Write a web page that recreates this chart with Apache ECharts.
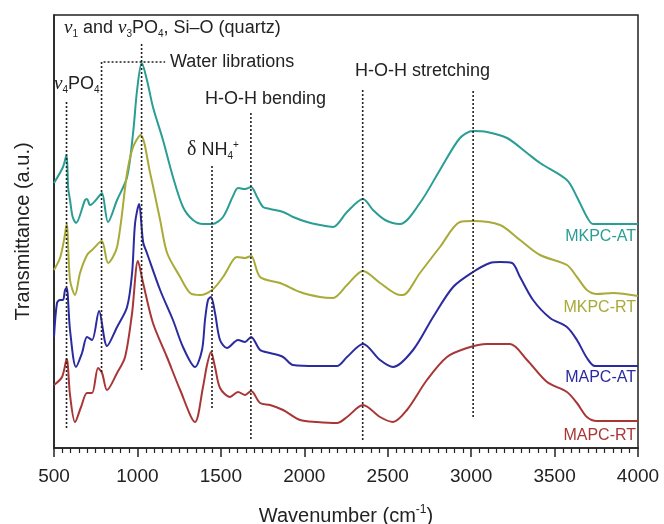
<!DOCTYPE html>
<html>
<head>
<meta charset="utf-8">
<script src="https://cdn.jsdelivr.net/npm/echarts@6/dist/echarts.min.js"></script>
<style>
  html, body { margin: 0; padding: 0; background: #fff; }
  #chart { width: 664px; height: 524px; }
</style>
</head>
<body>
<div id="chart"></div>
<script>
// spectra as [wavenumber, transmittance (a.u., offset)]
var mkpcAT = [[500,265],[554,281],[575,293],[585,260],[596,248],[612,231],[632,225],[686,248],[698,249],[716,243],[776,253],[788,255],[824,226],[878,248],[938,271],[974,315],[998,358],[1026,385],[1057,368],[1093,341],[1153,308],[1213,271],[1273,241],[1333,228],[1393,224],[1447,224],[1513,231],[1573,252],[1603,260],[1645,259],[1681,261],[1717,251],[1753,241],[1795,239],[1873,236],[1933,231],[2016,226],[2094,223],[2172,221],[2256,236],[2352,249],[2412,238],[2484,228],[2574,224],[2693,245],[2813,278],[2933,310],[3011,317],[3095,316],[3215,310],[3335,295],[3413,285],[3574,268],[3634,251],[3694,231],[3730,224],[4000,224]];
var mkpcRT = [[500,178],[536,190],[560,208],[576,224],[596,168],[626,153],[656,175],[698,193],[728,198],[786,207],[824,185],[878,201],[938,275],[974,301],[1019,313],[1076,275],[1136,228],[1178,195],[1256,171],[1316,155],[1376,153],[1447,158],[1513,171],[1573,188],[1597,191],[1645,190],[1681,192],[1735,171],[1855,165],[1975,156],[2094,151],[2172,150],[2256,163],[2352,177],[2454,165],[2574,153],[2592,153],[2693,175],[2813,201],[2933,226],[3011,227],[3173,223],[3293,208],[3413,193],[3574,183],[3634,171],[3694,158],[3754,154],[3850,155],[4000,152]];
var mapcAT = [[500,111],[518,145],[536,148],[554,148],[566,158],[576,160],[596,118],[632,81],[668,95],[698,111],[728,108],[770,137],[818,102],[878,121],[938,141],[968,175],[986,225],[1010,244],[1034,206],[1057,195],[1136,158],[1213,128],[1273,101],[1345,81],[1387,98],[1405,128],[1423,148],[1441,151],[1465,135],[1495,108],[1537,100],[1603,108],[1645,106],[1681,111],[1735,98],[1795,95],[1873,91],[1933,83],[2076,82],[2196,82],[2256,91],[2352,104],[2454,88],[2532,81],[2652,98],[2772,131],[2892,161],[3011,176],[3113,185],[3173,186],[3245,185],[3293,171],[3371,148],[3473,130],[3574,121],[3634,108],[3694,90],[3742,82],[4000,82]];
var mapcRT = [[500,63],[548,71],[576,89],[596,53],[626,26],[662,41],[698,55],[728,55],[764,80],[788,75],[818,58],[878,75],[926,91],[968,135],[1003,187],[1034,165],[1093,125],[1177,91],[1256,58],[1345,26],[1393,61],[1417,83],[1441,96],[1465,81],[1495,60],[1555,51],[1603,56],[1645,53],[1681,57],[1735,45],[1795,43],[1873,38],[1975,28],[2076,26],[2196,25],[2256,31],[2352,43],[2454,31],[2532,26],[2615,38],[2735,68],[2855,91],[2975,100],[3095,104],[3233,104],[3335,88],[3455,66],[3574,56],[3634,45],[3694,31],[3754,27],[4000,27]];

var seriesNames = ['MKPC-AT', 'MKPC-RT', 'MAPC-AT', 'MAPC-RT'];
var seriesColors = ['#2a9d95', '#a9aa38', '#2b2ba0', '#a93636'];
var spectra = [mkpcAT, mkpcRT, mapcAT, mapcRT];

// dotted guide lines: wavenumber, bottom, top
var guideWn = [575, 785, 1025, 1447, 1680, 2350, 3012];
var guideBottom = [20, 76, 78, 40, 9, 8, 31];
var guideTop = [346, 386, 405, 283, 335, 360, 358];
var libEnd = 1166; // end of the "Water librations" leader

var xTicks = [500, 1000, 1500, 2000, 2500, 3000, 3500, 4000];

var chart = echarts.init(document.getElementById('chart'));

var series = spectra.map(function (d, i) {
  return {
    name: seriesNames[i],
    type: 'line',
    data: d,
    smooth: 0.3,
    symbol: 'none',
    lineStyle: { color: seriesColors[i], width: 2 },
    z: 2
  };
});

guideWn.forEach(function (w, i) {
  var pts = [[w, guideBottom[i]], [w, guideTop[i]]];
  if (w === 785) pts.push([libEnd, guideTop[i]]);
  series.push({
    type: 'line',
    data: pts,
    symbol: 'none',
    silent: true,
    lineStyle: { color: '#222', width: 1.6, type: [2, 2] },
    z: 3
  });
});

var FONT = 'Liberation Sans';
var rich = {
  nu: { fontFamily: 'Liberation Serif', fontStyle: 'italic', fontSize: 19, color: '#222' },
  d: { fontFamily: 'Liberation Serif', fontSize: 20, color: '#222' },
  sub: { fontSize: 10, color: '#222', padding: [12, 0, 0, 0] },
  sup: { fontSize: 10, color: '#222', padding: [0, 0, 10, 0] },
  t: { fontFamily: FONT, fontSize: 18, color: '#222' }
};

function label(x, y, text) {
  return {
    type: 'text',
    x: x,
    y: y,
    z: 10,
    style: {
      text: text,
      font: '18px "Liberation Sans"',
      fill: '#222',
      verticalAlign: 'middle',
      rich: rich
    }
  };
}

function seriesLabel(y, i) {
  return {
    type: 'text',
    x: 636,
    y: y,
    z: 10,
    style: {
      text: seriesNames[i],
      font: '16px "Liberation Sans"',
      fill: seriesColors[i],
      align: 'right',
      verticalAlign: 'middle'
    }
  };
}

chart.setOption({
  backgroundColor: '#fff',
  animation: false,
  grid: {
    left: 54, right: 26, top: 15, bottom: 76,
    outerBoundsMode: 'none',
    show: true, borderColor: '#222', borderWidth: 1.5
  },
  xAxis: {
    type: 'value',
    min: 500,
    max: 4000,
    interval: 500,
    name: 'Wavenumber (cm{sup|-1})',
    nameLocation: 'middle',
    nameGap: 56,
    nameTextStyle: {
      fontFamily: FONT, fontSize: 20, color: '#222',
      rich: { sup: { fontFamily: FONT, fontSize: 12, color: '#222', padding: [0, 0, 12, 0] } }
    },
    axisLine: { lineStyle: { color: '#222', width: 1.5 } },
    axisTick: { length: 9, lineStyle: { color: '#222', width: 1.5 } },
    minorTick: { show: true, splitNumber: 10, length: 5, lineStyle: { color: '#222', width: 1.2 } },
    splitLine: { show: false },
    axisLabel: {
      fontFamily: FONT, fontSize: 19, color: '#222', margin: 19,
      formatter: function (v) { return xTicks.indexOf(v) >= 0 ? String(v) : ''; }
    }
  },
  yAxis: {
    type: 'value',
    min: 0,
    max: 433,
    name: 'Transmittance (a.u.)',
    nameLocation: 'middle',
    nameGap: 21,
    nameTextStyle: { fontFamily: FONT, fontSize: 20, color: '#222' },
    axisLine: { show: true, lineStyle: { color: '#222', width: 1.5 } },
    axisTick: { show: false },
    axisLabel: { show: false },
    splitLine: { show: false }
  },
  series: series,
  graphic: [
    label(64, 28, '{nu|ν}{sub|1}{t| and }{nu|ν}{sub|3}{t|PO}{sub|4}{t|, Si–O (quartz)}'),
    label(170, 62, 'Water librations'),
    label(54, 84, '{nu|ν}{sub|4}{t|PO}{sub|4}'),
    label(205, 99, 'H-O-H bending'),
    label(187, 150, '{d|δ}{t| NH}{sub|4}{sup|+}'),
    label(355, 71, 'H-O-H stretching'),
    seriesLabel(237, 0),
    seriesLabel(308, 1),
    seriesLabel(378, 2),
    seriesLabel(436, 3)
  ]
});
</script>
</body>
</html>
